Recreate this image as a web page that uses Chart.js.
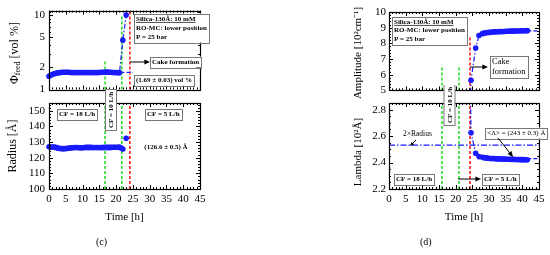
<!DOCTYPE html>
<html>
<head>
<meta charset="utf-8">
<script src="https://cdn.jsdelivr.net/npm/chart.js@4.4.0/dist/chart.umd.min.js"></script>
<style>
  body { margin: 0; background: #fff; }
  #wrap { position: relative; width: 550px; height: 255px; overflow: hidden; }
  canvas { position: absolute; }
  .cap { position: absolute; top: 236px; font: 10px "Liberation Serif", serif; color: #000; }
</style>
</head>
<body>
<div id="wrap">
  <canvas id="cTop" width="215" height="100" style="left:0;top:0"></canvas>
  <canvas id="cBot" width="215" height="145" style="left:0;top:85px"></canvas>
  <canvas id="dTop" width="210" height="100" style="left:340px;top:0"></canvas>
  <canvas id="dBot" width="210" height="145" style="left:340px;top:85px"></canvas>
  <div class="cap" style="left:96px">(c)</div>
  <div class="cap" style="left:420px">(d)</div>
</div>
<script>
const FONT = "Liberation Serif";
const BLUE = "#1a1aff";
const GREEN = "#2bdc2b";
const RED = "#ff1a1a";

// shared time axis
const timeTicks = [0, 5, 10, 15, 20, 25, 30, 35, 40, 45];

// (c) top - volume fraction in the feed
const phiTime = [0, 0.5, 1, 1.5, 2, 2.5, 3, 3.5, 4, 4.5, 5, 5.5, 6, 6.5, 7, 7.5, 8, 8.5, 9, 9.5, 10,
  10.5, 11, 11.5, 12, 12.5, 13, 13.5, 14, 14.5, 15, 15.5, 16, 16.5, 17, 17.5, 18, 18.5, 19, 19.5, 20,
  20.5, 21, 22.0, 23.0, 23.6];
const phiValues = [1.50, 1.55, 1.59, 1.62, 1.65, 1.67, 1.68, 1.69, 1.70, 1.70, 1.70, 1.70, 1.70, 1.69, 1.69,
  1.69, 1.69, 1.69, 1.69, 1.69, 1.69, 1.69, 1.69, 1.69, 1.69, 1.69, 1.69, 1.69, 1.69, 1.69, 1.69, 1.70,
  1.70, 1.70, 1.71, 1.71, 1.70, 1.70, 1.69, 1.69, 1.69, 1.68, 1.68, 4.6, 10.0, 15.0];
const phiTicks = [1, 2, 5, 10];
const phiMinor = [3, 4, 6, 7, 8, 9, 11];
const phiMean = 1.69;

// (c) bottom - radius
const radiusTime = [0, 0.5, 1, 1.5, 2, 2.5, 3, 3.5, 4, 4.5, 5, 5.5, 6, 6.5, 7, 7.5, 8, 8.5, 9, 9.5, 10,
  10.5, 11, 11.5, 12, 12.5, 13, 13.5, 14, 14.5, 15, 15.5, 16, 16.5, 17, 17.5, 18, 18.5, 19, 19.5, 20,
  20.5, 21, 21.5, 22, 23.0];
const radiusValues = [127.0, 126.9, 126.8, 126.8, 126.6, 126.3, 126.0, 125.9, 125.8, 125.8, 125.9, 126.0,
  126.2, 126.3, 126.4, 126.5, 126.5, 126.5, 126.4, 126.4, 126.4, 126.5, 126.6, 126.6, 126.6, 126.6, 126.5,
  126.5, 126.5, 126.5, 126.5, 126.5, 126.5, 126.6, 126.6, 126.6, 126.6, 126.6, 126.7, 126.7, 126.7, 126.7,
  126.8, 126.2, 125.6, 132.5];
const radiusTicks = [100, 110, 120, 130, 140, 150];
const radiusMinor = [102, 104, 106, 108, 112, 114, 116, 118, 122, 124, 126, 128, 132, 134, 136, 138, 142, 144, 146, 148, 152, 154];

// (d) top - amplitude
const ampTime = [24.3, 24.6, 26.0, 27.0, 28, 28.5, 29, 29.5, 30, 30.5, 31, 31.5, 32, 32.5, 33, 33.5, 34,
  34.5, 35, 35.5, 36, 36.5, 37, 37.5, 38, 38.5, 39, 39.5, 40, 40.5, 41, 41.5];
const ampValues = [3.5, 5.65, 7.7, 8.5, 8.62, 8.65, 8.67, 8.69, 8.70, 8.71, 8.72, 8.73, 8.74, 8.74, 8.75,
  8.75, 8.76, 8.76, 8.77, 8.77, 8.77, 8.78, 8.78, 8.78, 8.79, 8.79, 8.79, 8.80, 8.80, 8.80, 8.80, 8.81];
const ampTicks = [5, 6, 7, 8, 9, 10];
const ampMinor = [5.2, 5.4, 5.6, 5.8, 6.2, 6.4, 6.6, 6.8, 7.2, 7.4, 7.6, 7.8, 8.2, 8.4, 8.6, 8.8, 9.2, 9.4, 9.6, 9.8];
const ampMean = 8.8;

// (d) bottom - lambda
const lambdaTime = ampTime;
const lambdaValues = [3.2, 2.625, 2.47, 2.445, 2.44, 2.437, 2.435, 2.433, 2.432, 2.431, 2.430, 2.430, 2.429,
  2.428, 2.428, 2.427, 2.427, 2.426, 2.426, 2.425, 2.425, 2.424, 2.424, 2.424, 2.423, 2.423, 2.423, 2.422,
  2.422, 2.422, 2.421, 2.421];
const lambdaTicks = [2.2, 2.4, 2.6, 2.8];
const lambdaMinor = [2.25, 2.3, 2.35, 2.45, 2.5, 2.55, 2.65, 2.7, 2.75];
const lambdaMean = 2.43;
const twoRadius = 2.532;

// cross-flow changes and cake formation times
const cfTimesC = [16.7, 21.7];
const cakeTimeC = 24.1;
const cfTimesD = [15.9, 21.0];
const cakeTimeD = 24.3;

const pts = (xs, ys) => xs.map((x, i) => ({ x: x, y: ys[i] }));

function dataSet(data, line) {
  return {
    data: data, showLine: line, borderColor: BLUE, borderWidth: 1.2, borderDash: [5, 2, 1.5, 2],
    pointRadius: 2.8, pointBackgroundColor: BLUE, pointBorderWidth: 0,
    clip: { left: 4, top: 0, right: 0, bottom: 0 }
  };
}
function flatLine(x0, x1, y, dash) {
  return { data: [{ x: x0, y: y }, { x: x1, y: y }], showLine: true, borderColor: BLUE, borderWidth: 1.2,
    borderDash: dash, pointRadius: 0 };
}
function vLine(x, y0, y1, color) {
  return { data: [{ x: x, y: y0 }, { x: x, y: y1 }], showLine: true, borderColor: color, borderWidth: 1.6,
    borderDash: [3, 2], pointRadius: 0 };
}

// frame with inward ticks on all four sides
const frames = {
  cTop: { major: phiTicks, minor: phiMinor },
  cBot: { major: radiusTicks, minor: radiusMinor },
  dTop: { major: ampTicks, minor: ampMinor },
  dBot: { major: lambdaTicks, minor: lambdaMinor }
};
const framePlugin = {
  id: "frame",
  afterDatasetsDraw(chart) {
    const f = frames[chart.canvas.id];
    const ctx = chart.ctx, a = chart.chartArea;
    const x = chart.scales.x, y = chart.scales.y;
    ctx.save();
    ctx.strokeStyle = "#000";
    ctx.lineWidth = 1;
    ctx.beginPath();
    for (let t = 0; t <= 45; t++) {
      const px = Math.round(x.getPixelForValue(t)) + 0.5;
      const len = t % 5 === 0 ? 4 : 2;
      ctx.moveTo(px, a.bottom); ctx.lineTo(px, a.bottom - len);
      ctx.moveTo(px, a.top); ctx.lineTo(px, a.top + len);
    }
    const yt = (v, len) => {
      const py = Math.round(y.getPixelForValue(v)) + 0.5;
      if (py < a.top || py > a.bottom) return;
      ctx.moveTo(a.left, py); ctx.lineTo(a.left + len, py);
      ctx.moveTo(a.right, py); ctx.lineTo(a.right - len, py);
    };
    f.major.forEach(v => yt(v, 4));
    f.minor.forEach(v => yt(v, 2));
    ctx.stroke();
    ctx.lineWidth = 1.2;
    ctx.strokeRect(Math.round(a.left) + 0.5, Math.round(a.top) + 0.5, Math.round(a.width), Math.round(a.height));
    ctx.restore();
  }
};

// text boxes, arrows and axis titles
const notes = {
  cTop: [
    { k: "ytitle", cx: 15, cy: 53, parts: [{ t: "Φ", size: 12, dy: 0 }, { t: "feed", size: 8, dy: 3 }, { t: " [vol %]", size: 12, dy: 0 }] },
    { k: "box", x: 134, cy: 28, lines: ["Silica-130Å: 10 mM", "RO-MC: lower position", "P = 25 bar"], size: 7, bold: true, lh: 9, underline: true },
    { k: "arrow", x1: 130, y1: 62, x2: 150, y2: 62 },
    { k: "box", x: 150, cy: 62, lines: ["Cake formation"], size: 7, bold: true, lh: 9 },
    { k: "box", x: 134, cy: 80, lines: ["(1.69 ± 0.03) vol %"], size: 7, bold: true, lh: 9 }
  ],
  cBot: [
    { k: "ytitle", cx: 13, cy: 61, parts: [{ t: "Radius [Å]", size: 12, dy: 0 }] },
    { k: "box", x: 57, cy: 29.5, lines: ["CF = 18 L/h"], size: 7, bold: true, lh: 9 },
    { k: "box", x: 145, cy: 29.5, lines: ["CF = 5 L/h"], size: 7, bold: true, lh: 9 },
    { k: "text", x: 166, cy: 62, t: "(126.6 ± 0.5) Å", size: 7, bold: true, align: "center" },
    { k: "vbox", cx: 111, cy: 25, t: "CF = 10 L/h", size: 7, bold: true }
  ],
  dTop: [
    { k: "ytitle", cx: 18, cy: 53, parts: [{ t: "Amplitude [10²cm⁻¹]", size: 11, dy: 0 }] },
    { k: "box", x: 52, cy: 30.5, lines: ["Silica-130Å: 10 mM", "RO-MC: lower position", "P = 25 bar"], size: 7, bold: true, lh: 8.5, underline: true },
    { k: "arrow", x1: 130, y1: 67, x2: 148, y2: 67 },
    { k: "box", x: 150, cy: 66.5, lines: ["Cake", "formation"], size: 8.5, bold: false, lh: 10 }
  ],
  dBot: [
    { k: "ytitle", cx: 18, cy: 67, parts: [{ t: "Lambda [10²Å]", size: 11, dy: 0 }] },
    { k: "text", x: 63, cy: 49, t: "2×Radius", size: 7.5, bold: false, align: "left" },
    { k: "arrow", x1: 76, y1: 55, x2: 70, y2: 61, head: 2.5 },
    { k: "box", x: 145, cy: 48, lines: ["<Λ> = (243 ± 0.3) Å"], size: 7, bold: false, lh: 9 },
    { k: "arrow", x1: 158, y1: 53, x2: 173, y2: 72 },
    { k: "box", x: 54, cy: 94, lines: ["CF = 18 L/h"], size: 7, bold: true, lh: 9 },
    { k: "arrow", x1: 118, y1: 94, x2: 141, y2: 94 },
    { k: "box", x: 142, cy: 94, lines: ["CF = 5 L/h"], size: 7, bold: true, lh: 9 },
    { k: "vbox", cx: 109.5, cy: 20, t: "CF = 10 L/h", size: 7, bold: true }
  ]
};

function font(size, bold) {
  return (bold ? "bold " : "") + size + "px '" + FONT + "'";
}

const notesPlugin = {
  id: "notes",
  afterDraw(chart) {
    const ctx = chart.ctx;
    (notes[chart.canvas.id] || []).forEach(n => {
      ctx.save();
      ctx.fillStyle = "#000";
      ctx.strokeStyle = "#000";
      if (n.k === "box") {
        ctx.font = font(n.size, n.bold);
        const w = Math.max(...n.lines.map(l => ctx.measureText(l).width)) + 4;
        const h = n.lines.length * n.lh + 2;
        const top = n.cy - h / 2;
        ctx.fillStyle = "#fff";
        ctx.fillRect(n.x, top, w, h);
        ctx.strokeStyle = "#777";
        ctx.lineWidth = 1;
        ctx.strokeRect(Math.round(n.x) + 0.5, Math.round(top) + 0.5, Math.round(w), Math.round(h));
        ctx.fillStyle = "#000";
        ctx.textBaseline = "middle";
        n.lines.forEach((l, i) => {
          const ty = top + 1 + n.lh * (i + 0.5);
          ctx.fillText(l, n.x + 2, ty);
          if (n.underline && i === 0) {
            const lw = ctx.measureText(l).width;
            ctx.fillRect(n.x + 2, ty + n.size * 0.42, lw, 0.7);
          }
        });
      } else if (n.k === "text") {
        ctx.font = font(n.size, n.bold);
        ctx.textAlign = n.align;
        ctx.textBaseline = "middle";
        ctx.fillText(n.t, n.x, n.cy);
      } else if (n.k === "arrow") {
        const hd = n.head || 3.5;
        const ang = Math.atan2(n.y2 - n.y1, n.x2 - n.x1);
        ctx.lineWidth = 1;
        ctx.beginPath();
        ctx.moveTo(n.x1, n.y1);
        ctx.lineTo(n.x2 - Math.cos(ang) * hd, n.y2 - Math.sin(ang) * hd);
        ctx.stroke();
        ctx.beginPath();
        ctx.moveTo(n.x2, n.y2);
        ctx.lineTo(n.x2 - Math.cos(ang) * hd * 1.6 - Math.sin(ang) * hd * 0.7, n.y2 - Math.sin(ang) * hd * 1.6 + Math.cos(ang) * hd * 0.7);
        ctx.lineTo(n.x2 - Math.cos(ang) * hd * 1.6 + Math.sin(ang) * hd * 0.7, n.y2 - Math.sin(ang) * hd * 1.6 - Math.cos(ang) * hd * 0.7);
        ctx.closePath();
        ctx.fill();
      } else if (n.k === "vbox") {
        ctx.translate(n.cx, n.cy);
        ctx.rotate(-Math.PI / 2);
        ctx.font = font(n.size, n.bold);
        const w = ctx.measureText(n.t).width + 5;
        const h = n.size + 4;
        ctx.fillStyle = "#fff";
        ctx.fillRect(-w / 2, -h / 2, w, h);
        ctx.strokeStyle = "#777";
        ctx.lineWidth = 1;
        ctx.strokeRect(-w / 2, -h / 2, w, h);
        ctx.fillStyle = "#000";
        ctx.textAlign = "center";
        ctx.textBaseline = "middle";
        ctx.fillText(n.t, 0, 0.5);
      } else if (n.k === "ytitle") {
        ctx.translate(n.cx, n.cy);
        ctx.rotate(-Math.PI / 2);
        let total = 0;
        n.parts.forEach(p => { ctx.font = font(p.size); total += ctx.measureText(p.t).width; });
        let px = -total / 2;
        ctx.textBaseline = "middle";
        n.parts.forEach(p => {
          ctx.font = font(p.size);
          ctx.fillText(p.t, px, p.dy);
          px += ctx.measureText(p.t).width;
        });
      }
      ctx.restore();
    });
  }
};

function panel(id, o) {
  const tickFont = { family: FONT, size: 11 };
  const x = {
    type: "linear", min: 0, max: 45, display: o.showX,
    afterBuildTicks: s => { s.ticks = timeTicks.map(v => ({ value: v })); },
    grid: { display: false, drawTicks: false }, border: { display: false },
    ticks: { font: tickFont, color: "#000", padding: 4, maxRotation: 0, autoSkip: false },
    title: { display: true, text: "Time [h]", font: tickFont, color: "#000", padding: { top: 0, bottom: 6 } }
  };
  if (o.showX) x.afterFit = s => { s.height = 41; };
  return new Chart(document.getElementById(id), {
    type: "scatter",
    data: { datasets: o.datasets },
    options: {
      responsive: false,
      animation: false,
      layout: { padding: o.pad },
      plugins: { legend: { display: false }, tooltip: { enabled: false } },
      scales: {
        x: x,
        y: {
          type: o.yType, min: o.yMin, max: o.yMax,
          afterBuildTicks: s => { s.ticks = o.yTicks.map(v => ({ value: v })); },
          afterFit: s => { s.width = 49; },
          grid: { display: false, drawTicks: false }, border: { display: false },
          ticks: { font: tickFont, color: "#000", padding: o.yPad, autoSkip: false, callback: o.yFmt }
        }
      }
    },
    plugins: [framePlugin, notesPlugin]
  });
}

panel("cTop", {
  showX: false, pad: { left: 0, right: 15, top: 10, bottom: 3 },
  yType: "logarithmic", yMin: 1, yMax: 11.5, yTicks: phiTicks, yPad: 4, yFmt: v => String(v),
  datasets: [
    dataSet(pts(phiTime, phiValues), true),
    flatLine(21.3, 25, phiMean, [4, 2]),
    vLine(cfTimesC[0], 1, 2.5, GREEN),
    vLine(cfTimesC[1], 1, 10, GREEN),
    vLine(cakeTimeC, 1, 11.5, RED)
  ]
});

panel("cBot", {
  showX: true, pad: { left: 0, right: 15, top: 18, bottom: 0 },
  yType: "linear", yMin: 100, yMax: 155, yTicks: radiusTicks, yPad: 4, yFmt: v => String(v),
  datasets: [
    dataSet(pts(radiusTime, radiusValues), false),
    vLine(cfTimesC[0], 100, 155, GREEN),
    vLine(cfTimesC[1], 100, 155, GREEN),
    vLine(cakeTimeC, 100, 155, RED)
  ]
});

panel("dTop", {
  showX: false, pad: { left: 0, right: 11, top: 12, bottom: 3 },
  yType: "linear", yMin: 5, yMax: 10, yTicks: ampTicks, yPad: 3, yFmt: v => String(v),
  datasets: [
    dataSet(pts(ampTime, ampValues), true),
    flatLine(41.5, 45, ampMean, [4, 2]),
    vLine(cfTimesD[0], 5, 6.6, GREEN),
    vLine(cfTimesD[1], 5, 6.6, GREEN),
    vLine(cakeTimeD, 5, 8.4, RED)
  ]
});

panel("dBot", {
  showX: true, pad: { left: 0, right: 11, top: 18, bottom: 0 },
  yType: "linear", yMin: 2.2, yMax: 2.85, yTicks: lambdaTicks, yPad: 3, yFmt: v => v.toFixed(1),
  datasets: [
    dataSet(pts(lambdaTime, lambdaValues), true),
    flatLine(41.5, 45, lambdaMean, [4, 2]),
    flatLine(0, 45, twoRadius, [6, 2, 1.5, 2]),
    vLine(cfTimesD[0], 2.2, 2.85, GREEN),
    vLine(cfTimesD[1], 2.2, 2.85, GREEN),
    vLine(cakeTimeD, 2.2, 2.85, RED)
  ]
});
</script>
</body>
</html>
